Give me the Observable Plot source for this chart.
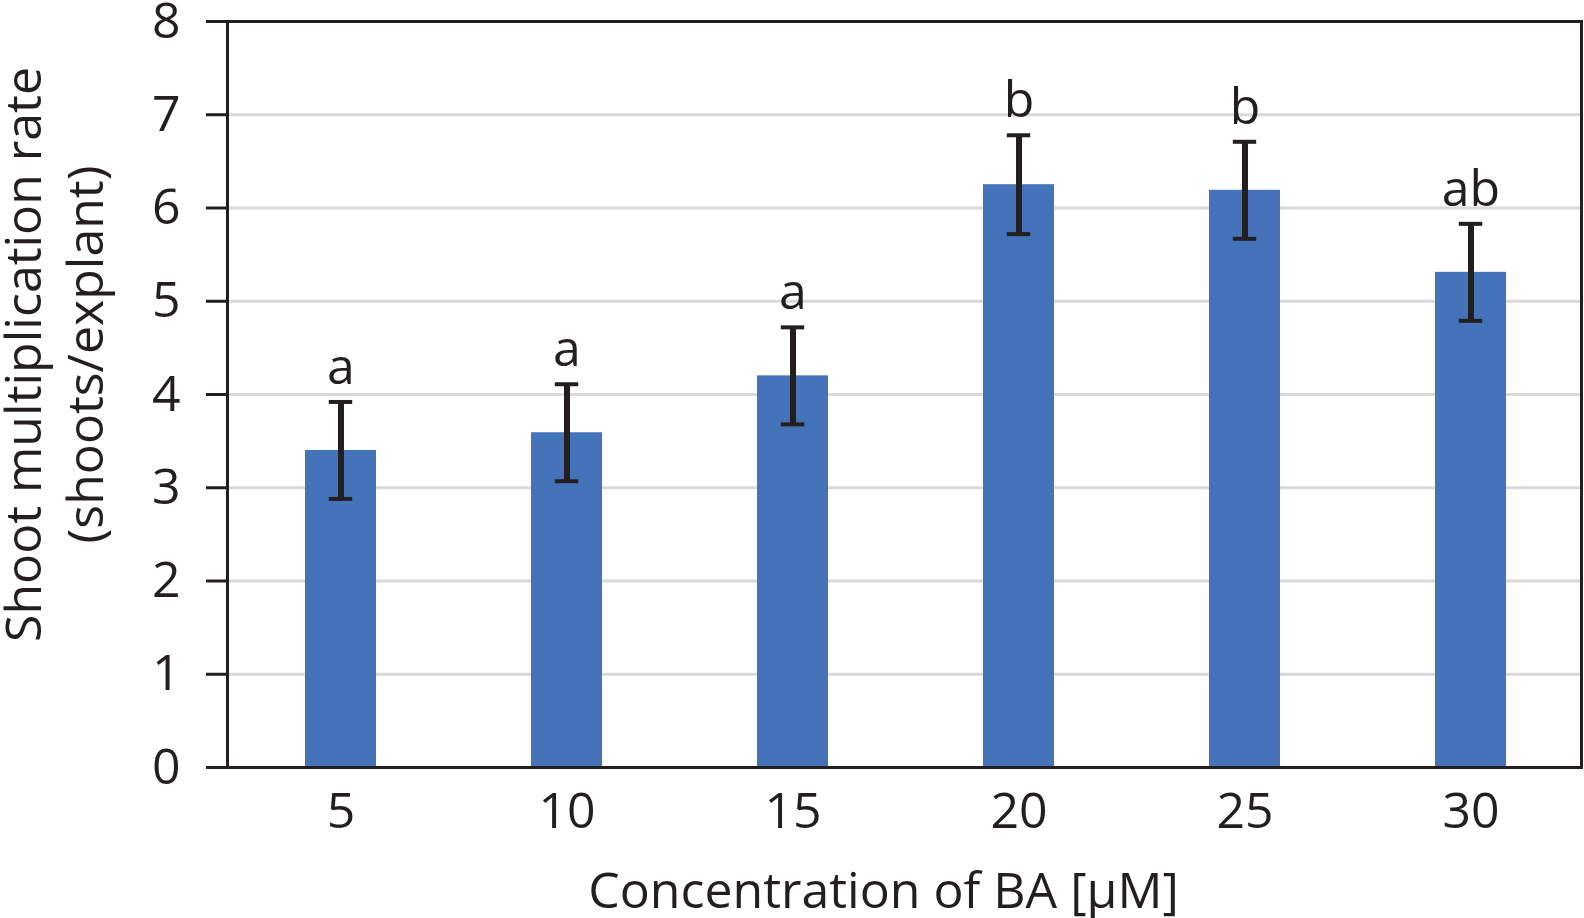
<!DOCTYPE html>
<html><head><meta charset="utf-8">
<script src="https://cdn.jsdelivr.net/npm/d3@7"></script>
<script src="https://cdn.jsdelivr.net/npm/@observablehq/plot@0.6"></script>
<style>body{margin:0;background:#fff}</style>
</head><body><div id="chart"></div>
<script>
const concentrations = ["5", "10", "15", "20", "25", "30"];
const means = [3.40, 3.59, 4.20, 6.25, 6.19, 5.31];
const errors = [0.52, 0.52, 0.52, 0.53, 0.52, 0.52];
const letters = ["a", "a", "a", "b", "b", "ab"];
const yTicks = [0, 1, 2, 3, 4, 5, 6, 7, 8];
const gridValues = [1, 2, 3, 4, 5, 6, 7];
const xTitle = "Concentration of BA [μM]";
const yTitle = "Shoot multiplication rate\n(shoots/explant)";

const data = concentrations.map((c, i) => ({
  c, m: means[i], lo: means[i] - errors[i], hi: means[i] + errors[i], l: letters[i]
}));
const ink = "#231f20";
const font = "'Open Sans', sans-serif";

const plot = Plot.plot({
  width: 1584, height: 918,
  marginLeft: 227, marginRight: 3, marginTop: 21, marginBottom: 151,
  style: {fontFamily: font, fontSize: "50px", color: ink, background: "#fff"},
  x: {domain: concentrations, paddingInner: 0.685, paddingOuter: 0.334, align: 0.512, label: null},
  y: {domain: [0, 8], ticks: yTicks, label: null},
  marks: [
    Plot.ruleY(gridValues, {stroke: "#d9d9d9", strokeWidth: 3}),
    Plot.barY(data, {x: "c", y: "m", fill: "#4473b9"}),
    Plot.ruleX(data, {x: "c", y1: "lo", y2: "hi", stroke: ink, strokeWidth: 6}),
    Plot.tickY(data, {x: "c", y: "lo", stroke: ink, strokeWidth: 4, insetLeft: 23.8, insetRight: 23.8}),
    Plot.tickY(data, {x: "c", y: "hi", stroke: ink, strokeWidth: 4, insetLeft: 23.8, insetRight: 23.8}),
    Plot.text(data, {x: "c", y: "hi", text: "l", dy: -18, lineAnchor: "bottom", fontSize: 50, fill: ink}),
    Plot.axisY({ticks: yTicks, tickSize: 21, tickPadding: 26, stroke: ink, strokeWidth: 3, label: null, fontSize: 50, fill: ink}),
    Plot.axisX({tickSize: 0, tickPadding: 25, label: null, fontSize: 50, fill: ink}),
    Plot.frame({stroke: ink, strokeWidth: 3}),
    Plot.text([xTitle], {frameAnchor: "bottom", textAnchor: "middle", lineAnchor: "bottom", dx: -21, dy: 140, fontSize: 50, fill: ink}),
    Plot.text([yTitle], {frameAnchor: "left", textAnchor: "middle", lineAnchor: "middle", rotate: -90, dx: -175, dy: -40, lineHeight: 1.24, fontSize: 50, fill: ink})
  ]
});
document.getElementById("chart").appendChild(plot);
</script>
</body></html>
